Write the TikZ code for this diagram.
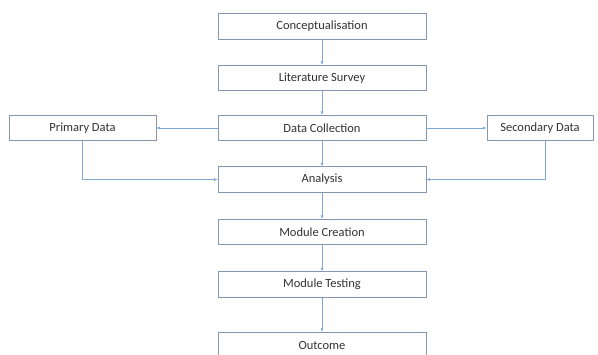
\documentclass[tikz,border=0pt]{standalone}
\usepackage{fontspec}
\setmainfont{Carlito}
\usetikzlibrary{arrows.meta}
\definecolor{boxline}{HTML}{8496B0}
\definecolor{arrowc}{HTML}{7FA8D6}
\definecolor{txt}{HTML}{333333}
\begin{document}
\begin{tikzpicture}[x=1pt,y=-1pt,
  stepbox/.style={draw=boxline,line width=0.8pt,fill=white,minimum height=25.5pt,inner sep=0pt,text=txt,font=\fontsize{12.5}{14}\selectfont},
  mainbox/.style={stepbox,minimum width=208pt},
  conn/.style={draw=arrowc,line width=0.6pt,-{Latex[length=3.5pt,width=3pt]}}]
\useasboundingbox (0,0) rectangle (598,354);
\clip (0,0) rectangle (598,354);
\node[mainbox] (conc) at (322,26.5) {Conceptualisation};
\node[mainbox] (lit) at (322,78) {Literature Survey};
\node[mainbox] (dc) at (322,128) {Data Collection};
\node[mainbox] (an) at (322,179.5) {Analysis};
\node[mainbox] (mc) at (322,232) {Module Creation};
\node[mainbox] (mt) at (322,284.5) {Module Testing};
\node[mainbox] (out) at (322,345) {Outcome};
\node[stepbox,minimum width=147pt] (pd) at (82.5,128) {Primary Data};
\node[stepbox,minimum width=106pt] (sd) at (540,128) {Secondary Data};
\draw[conn] (conc) -- (lit);
\draw[conn] (lit) -- (dc);
\draw[conn] (dc) -- (an);
\draw[conn] (an) -- (mc);
\draw[conn] (mc) -- (mt);
\draw[conn] (mt) -- (out);
\draw[conn] (dc) -- (pd);
\draw[conn] (dc) -- (sd);
\draw[conn] (pd.south) |- (an.west);
\draw[conn] ([xshift=5pt]sd.south) |- (an.east);
\end{tikzpicture}
\end{document}
